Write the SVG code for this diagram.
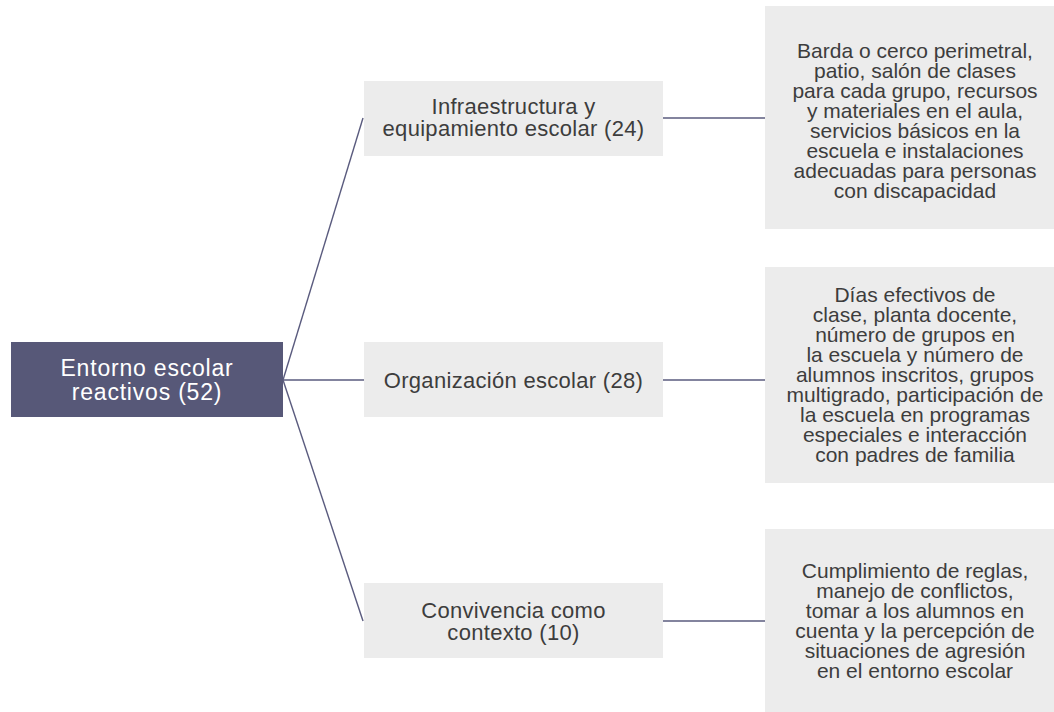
<svg xmlns="http://www.w3.org/2000/svg" width="1054" height="712" viewBox="0 0 1054 712">
<style>
.root{fill:#575878}
.box{fill:#ececec}
.rt{font-family:"Liberation Sans",Arial,sans-serif;font-size:23px;fill:#ffffff;text-anchor:middle;letter-spacing:0.8px}
.mt{font-family:"Liberation Sans",Arial,sans-serif;font-size:22px;fill:#3d3d3d;text-anchor:middle;letter-spacing:0.3px}
.dt{font-family:"Liberation Sans",Arial,sans-serif;font-size:21px;fill:#3d3d3d;text-anchor:middle}
.con{stroke:#5a5b7e;stroke-width:1.4;fill:none}
</style>
<rect width="1054" height="712" fill="#ffffff"/>
<g id="connectors">
<line class="con" x1="283" y1="380" x2="363" y2="118"/>
<line class="con" x1="283" y1="380" x2="364" y2="380"/>
<line class="con" x1="283" y1="380" x2="363" y2="621"/>
<line class="con" x1="663" y1="118" x2="765" y2="118"/>
<line class="con" x1="663" y1="380" x2="765" y2="380"/>
<line class="con" x1="663" y1="621" x2="765" y2="621"/>
</g>
<g id="root">
<rect class="root" x="11" y="342" width="272" height="75"/>
<text class="rt" x="147" y="376">Entorno escolar</text>
<text class="rt" x="147" y="400">reactivos (52)</text>
</g>
<g id="infraestructura">
<rect class="box" x="364" y="81" width="299" height="75"/>
<text class="mt" x="513.5" y="114">Infraestructura y</text>
<text class="mt" x="513.5" y="136">equipamiento escolar (24)</text>
</g>
<g id="organizacion">
<rect class="box" x="364" y="342" width="299" height="75"/>
<text class="mt" x="513.5" y="388">Organización escolar (28)</text>
</g>
<g id="convivencia">
<rect class="box" x="364" y="583" width="299" height="75"/>
<text class="mt" x="513.5" y="618">Convivencia como</text>
<text class="mt" x="513.5" y="640">contexto (10)</text>
</g>
<g id="detalle-infraestructura">
<rect class="box" x="765" y="6" width="300" height="223"/>
<text class="dt" x="915" y="58">Barda o cerco perimetral,</text>
<text class="dt" x="915" y="78">patio, salón de clases</text>
<text class="dt" x="915" y="98">para cada grupo, recursos</text>
<text class="dt" x="915" y="118">y materiales en el aula,</text>
<text class="dt" x="915" y="138">servicios básicos en la</text>
<text class="dt" x="915" y="158">escuela e instalaciones</text>
<text class="dt" x="915" y="178">adecuadas para personas</text>
<text class="dt" x="915" y="198">con discapacidad</text>
</g>
<g id="detalle-organizacion">
<rect class="box" x="765" y="267" width="300" height="216"/>
<text class="dt" x="915" y="302">Días efectivos de</text>
<text class="dt" x="915" y="322">clase, planta docente,</text>
<text class="dt" x="915" y="342">número de grupos en</text>
<text class="dt" x="915" y="362">la escuela y número de</text>
<text class="dt" x="915" y="382">alumnos inscritos, grupos</text>
<text class="dt" x="915" y="402">multigrado, participación de</text>
<text class="dt" x="915" y="422">la escuela en programas</text>
<text class="dt" x="915" y="442">especiales e interacción</text>
<text class="dt" x="915" y="462">con padres de familia</text>
</g>
<g id="detalle-convivencia">
<rect class="box" x="765" y="529" width="300" height="190"/>
<text class="dt" x="915" y="578">Cumplimiento de reglas,</text>
<text class="dt" x="915" y="598">manejo de conflictos,</text>
<text class="dt" x="915" y="618">tomar a los alumnos en</text>
<text class="dt" x="915" y="638">cuenta y la percepción de</text>
<text class="dt" x="915" y="658">situaciones de agresión</text>
<text class="dt" x="915" y="678">en el entorno escolar</text>
</g>
</svg>
